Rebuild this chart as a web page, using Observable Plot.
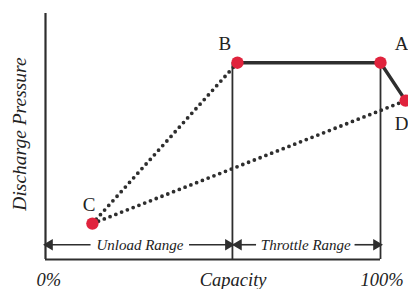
<!DOCTYPE html>
<html><head><meta charset="utf-8">
<script src="https://cdn.jsdelivr.net/npm/d3@7"></script>
<script src="https://cdn.jsdelivr.net/npm/@observablehq/plot@0.6"></script>
<style>
body{margin:0;background:#fff;}
svg{display:block;}
</style>
</head><body><div id="chart"></div>
<script>
// Operating points (capacity %, discharge pressure %)
const pointNames = ["B", "A", "D", "C"];
const pointX = [57.3, 100, 107.5, 14.0];
const pointY = [80, 80, 64.6, 14.6];
// label positions in data units
const labelX = [53.5, 106.3, 106.3, 13];
const labelY = [87.5, 87.5, 55, 22];

const solidOrder = ["B", "A", "D"];
const dottedOrder = ["B", "C", "D"];

// Range boundaries
const boundaryX = [55.8, 100];
const boundaryTop = [80, 80];

// Range arrows (shaft start, tip)
const arrowX1 = [13.6, 43, 63, 92.4];
const arrowX2 = [1.2, 54.6, 57.6, 98.8];
const arrowDir = [-90, 90, -90, 90];
const arrowYv = 6;
const rangeLabels = ["Unload Range", "Throttle Range"];
const rangeLabelX = [28.2, 77.7];

const xTickLabels = ["0%", "Capacity", "100%"];
const xTickX = [1, 56, 100.5];

const yLabel = "Discharge Pressure";

const pts = pointNames.map((n, i) => ({name: n, x: pointX[i], y: pointY[i], lx: labelX[i], ly: labelY[i]}));
const byName = Object.fromEntries(pts.map(p => [p.name, p]));
const solid = solidOrder.map(n => byName[n]);
const dotted = dottedOrder.map(n => byName[n]);
const bounds = boundaryX.map((x, i) => ({x, top: boundaryTop[i]}));
const arrows = arrowX1.map((x1, i) => ({x1, x2: arrowX2[i], y: arrowYv, rot: arrowDir[i]}));
const ranges = rangeLabels.map((t, i) => ({t, x: rangeLabelX[i], y: arrowYv}));
const ticks = xTickLabels.map((t, i) => ({t, x: xTickX[i]}));

const serif = "'Liberation Serif', 'DejaVu Serif', serif";
const ink = "#2e2e2e";

const chart = Plot.plot({
  width: 408,
  height: 289,
  marginLeft: 45,
  marginRight: 28,
  marginTop: 13,
  marginBottom: 30,
  x: {domain: [0, 100], axis: null},
  y: {domain: [0, 100], axis: null},
  style: {fontFamily: serif, background: "white", overflow: "visible"},
  marks: [
    Plot.ruleX([0], {y1: 0, y2: 100, stroke: ink, strokeWidth: 2.2}),
    Plot.ruleY([0], {x1: 0, x2: 100, stroke: ink, strokeWidth: 2.2}),
    Plot.ruleX(bounds, {x: "x", y1: 0, y2: "top", stroke: ink, strokeWidth: 1.8}),
    Plot.line(dotted, {x: "x", y: "y", stroke: ink, strokeWidth: 3.8, strokeDasharray: "0,6.2", strokeLinecap: "round"}),
    Plot.line(solid, {x: "x", y: "y", stroke: ink, strokeWidth: 3.4}),
    Plot.dot(pts, {x: "x", y: "y", r: 6.2, fill: "#e0233d", stroke: "none"}),
    Plot.text(pts, {x: "lx", y: "ly", text: "name", fontSize: 19, fill: "#222", fontStyle: d => d.name === "C" ? "normal" : "italic"}),
    Plot.ruleY(arrows, {x1: "x1", x2: "x2", y: "y", stroke: ink, strokeWidth: 1.6}),
    Plot.dot(arrows, {x: "x2", y: "y", symbol: "triangle", rotate: "rot", r: 4.2, fill: ink, stroke: "none"}),
    Plot.text(ranges, {x: "x", y: "y", text: "t", fontSize: 15, fontStyle: "italic", fill: "#222"}),
    Plot.text(ticks, {x: "x", y: 0, dy: 21, text: "t", fontSize: 18.5, fontStyle: "italic", fill: "#222"}),
    Plot.text([yLabel], {x: 0, y: 51, dx: -26, rotate: -90, text: d => d, fontSize: 19.5, fontStyle: "italic", fill: "#222"})
  ]
});
document.getElementById("chart").append(chart);
</script>
</body></html>
